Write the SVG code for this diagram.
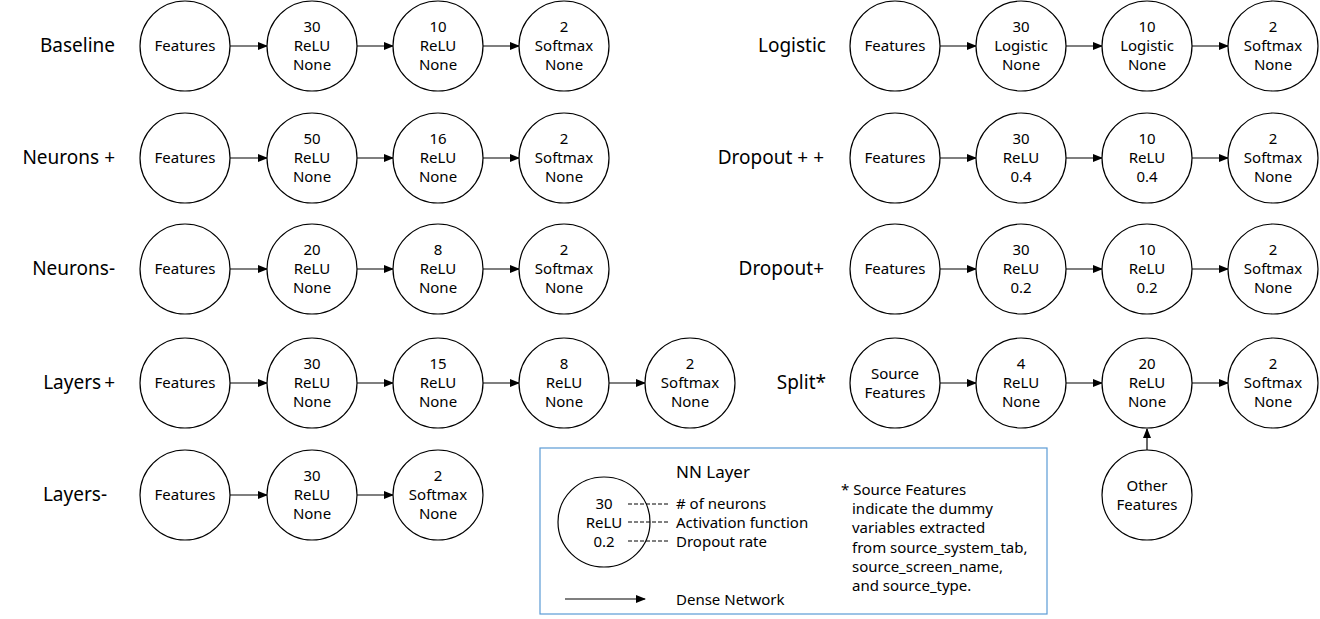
<svg xmlns="http://www.w3.org/2000/svg" width="1320" height="619" viewBox="0 0 1320 619">
<style>
text{font-family:"Noto Sans","Liberation Sans",sans-serif;fill:#000}
.n{font-size:15px;text-anchor:middle}
.lb{font-size:19px;text-anchor:end}
.lg{font-size:15px}
ellipse{fill:#fff;stroke:#000;stroke-width:1.2}
.c line{stroke:#000;stroke-width:1.2;marker-end:url(#ah)}
</style>
<defs>
<marker id="ah" markerWidth="10" markerHeight="8" refX="9" refY="4" orient="auto" markerUnits="userSpaceOnUse">
<path d="M0,0 L10,4 L0,8 Z" fill="#000"/>
</marker>
</defs>
<rect width="1320" height="619" fill="#fff"/>

<!-- row labels -->
<g id="labels">
<text class="lb" x="115" y="52">Baseline</text>
<text class="lb" x="115" y="164">Neurons<tspan dx="5">+</tspan></text>
<text class="lb" x="115" y="275">Neurons-</text>
<text class="lb" x="115" y="389">Layers<tspan dx="3">+</tspan></text>
<text class="lb" x="107" y="501">Layers-</text>
<text class="lb" x="826" y="52">Logistic</text>
<text class="lb" x="824" y="164">Dropout<tspan dx="5">+</tspan><tspan dx="5">+</tspan></text>
<text class="lb" x="824" y="275">Dropout+</text>
<text class="lb" x="826" y="389">Split*</text>
</g>

<!-- connectors -->
<g class="c" id="connectors">
<line x1="230" y1="46" x2="267" y2="46"/><line x1="357" y1="46" x2="393" y2="46"/><line x1="483" y1="46" x2="519" y2="46"/>
<line x1="230" y1="158" x2="267" y2="158"/><line x1="357" y1="158" x2="393" y2="158"/><line x1="483" y1="158" x2="519" y2="158"/>
<line x1="230" y1="269" x2="267" y2="269"/><line x1="357" y1="269" x2="393" y2="269"/><line x1="483" y1="269" x2="519" y2="269"/>
<line x1="230" y1="383" x2="267" y2="383"/><line x1="357" y1="383" x2="393" y2="383"/><line x1="483" y1="383" x2="519" y2="383"/><line x1="609" y1="383" x2="645" y2="383"/>
<line x1="230" y1="495" x2="267" y2="495"/><line x1="357" y1="495" x2="393" y2="495"/>
<line x1="940" y1="46" x2="976" y2="46"/><line x1="1066" y1="46" x2="1102" y2="46"/><line x1="1192" y1="46" x2="1228" y2="46"/>
<line x1="940" y1="158" x2="976" y2="158"/><line x1="1066" y1="158" x2="1102" y2="158"/><line x1="1192" y1="158" x2="1228" y2="158"/>
<line x1="940" y1="269" x2="976" y2="269"/><line x1="1066" y1="269" x2="1102" y2="269"/><line x1="1192" y1="269" x2="1228" y2="269"/>
<line x1="940" y1="383" x2="976" y2="383"/><line x1="1066" y1="383" x2="1102" y2="383"/><line x1="1192" y1="383" x2="1228" y2="383"/>
<line x1="1147" y1="450" x2="1147" y2="429"/>
</g>

<!-- Baseline -->
<g id="baseline-features"><ellipse cx="185" cy="46" rx="45" ry="45"/><text class="n" x="185" y="51">Features</text></g>
<g id="baseline-l1"><ellipse cx="312" cy="46" rx="45" ry="45"/><text class="n" x="312" y="32">30</text><text class="n" x="312" y="51">ReLU</text><text class="n" x="312" y="70">None</text></g>
<g id="baseline-l2"><ellipse cx="438" cy="46" rx="45" ry="45"/><text class="n" x="438" y="32">10</text><text class="n" x="438" y="51">ReLU</text><text class="n" x="438" y="70">None</text></g>
<g id="baseline-out"><ellipse cx="564" cy="46" rx="45" ry="45"/><text class="n" x="564" y="32">2</text><text class="n" x="564" y="51">Softmax</text><text class="n" x="564" y="70">None</text></g>

<!-- Neurons+ -->
<g id="np-features"><ellipse cx="185" cy="158" rx="45" ry="45"/><text class="n" x="185" y="163">Features</text></g>
<g id="np-l1"><ellipse cx="312" cy="158" rx="45" ry="45"/><text class="n" x="312" y="144">50</text><text class="n" x="312" y="163">ReLU</text><text class="n" x="312" y="182">None</text></g>
<g id="np-l2"><ellipse cx="438" cy="158" rx="45" ry="45"/><text class="n" x="438" y="144">16</text><text class="n" x="438" y="163">ReLU</text><text class="n" x="438" y="182">None</text></g>
<g id="np-out"><ellipse cx="564" cy="158" rx="45" ry="45"/><text class="n" x="564" y="144">2</text><text class="n" x="564" y="163">Softmax</text><text class="n" x="564" y="182">None</text></g>

<!-- Neurons- -->
<g id="nm-features"><ellipse cx="185" cy="269" rx="45" ry="45"/><text class="n" x="185" y="274">Features</text></g>
<g id="nm-l1"><ellipse cx="312" cy="269" rx="45" ry="45"/><text class="n" x="312" y="255">20</text><text class="n" x="312" y="274">ReLU</text><text class="n" x="312" y="293">None</text></g>
<g id="nm-l2"><ellipse cx="438" cy="269" rx="45" ry="45"/><text class="n" x="438" y="255">8</text><text class="n" x="438" y="274">ReLU</text><text class="n" x="438" y="293">None</text></g>
<g id="nm-out"><ellipse cx="564" cy="269" rx="45" ry="45"/><text class="n" x="564" y="255">2</text><text class="n" x="564" y="274">Softmax</text><text class="n" x="564" y="293">None</text></g>

<!-- Layers+ -->
<g id="lp-features"><ellipse cx="185" cy="383" rx="45" ry="45"/><text class="n" x="185" y="388">Features</text></g>
<g id="lp-l1"><ellipse cx="312" cy="383" rx="45" ry="45"/><text class="n" x="312" y="369">30</text><text class="n" x="312" y="388">ReLU</text><text class="n" x="312" y="407">None</text></g>
<g id="lp-l2"><ellipse cx="438" cy="383" rx="45" ry="45"/><text class="n" x="438" y="369">15</text><text class="n" x="438" y="388">ReLU</text><text class="n" x="438" y="407">None</text></g>
<g id="lp-l3"><ellipse cx="564" cy="383" rx="45" ry="45"/><text class="n" x="564" y="369">8</text><text class="n" x="564" y="388">ReLU</text><text class="n" x="564" y="407">None</text></g>
<g id="lp-out"><ellipse cx="690" cy="383" rx="45" ry="45"/><text class="n" x="690" y="369">2</text><text class="n" x="690" y="388">Softmax</text><text class="n" x="690" y="407">None</text></g>

<!-- Layers- -->
<g id="lm-features"><ellipse cx="185" cy="495" rx="45" ry="45"/><text class="n" x="185" y="500">Features</text></g>
<g id="lm-l1"><ellipse cx="312" cy="495" rx="45" ry="45"/><text class="n" x="312" y="481">30</text><text class="n" x="312" y="500">ReLU</text><text class="n" x="312" y="519">None</text></g>
<g id="lm-out"><ellipse cx="438" cy="495" rx="45" ry="45"/><text class="n" x="438" y="481">2</text><text class="n" x="438" y="500">Softmax</text><text class="n" x="438" y="519">None</text></g>

<!-- Logistic -->
<g id="lo-features"><ellipse cx="895" cy="46" rx="45" ry="45"/><text class="n" x="895" y="51">Features</text></g>
<g id="lo-l1"><ellipse cx="1021" cy="46" rx="45" ry="45"/><text class="n" x="1021" y="32">30</text><text class="n" x="1021" y="51">Logistic</text><text class="n" x="1021" y="70">None</text></g>
<g id="lo-l2"><ellipse cx="1147" cy="46" rx="45" ry="45"/><text class="n" x="1147" y="32">10</text><text class="n" x="1147" y="51">Logistic</text><text class="n" x="1147" y="70">None</text></g>
<g id="lo-out"><ellipse cx="1273" cy="46" rx="45" ry="45"/><text class="n" x="1273" y="32">2</text><text class="n" x="1273" y="51">Softmax</text><text class="n" x="1273" y="70">None</text></g>

<!-- Dropout++ -->
<g id="dpp-features"><ellipse cx="895" cy="158" rx="45" ry="45"/><text class="n" x="895" y="163">Features</text></g>
<g id="dpp-l1"><ellipse cx="1021" cy="158" rx="45" ry="45"/><text class="n" x="1021" y="144">30</text><text class="n" x="1021" y="163">ReLU</text><text class="n" x="1021" y="182">0.4</text></g>
<g id="dpp-l2"><ellipse cx="1147" cy="158" rx="45" ry="45"/><text class="n" x="1147" y="144">10</text><text class="n" x="1147" y="163">ReLU</text><text class="n" x="1147" y="182">0.4</text></g>
<g id="dpp-out"><ellipse cx="1273" cy="158" rx="45" ry="45"/><text class="n" x="1273" y="144">2</text><text class="n" x="1273" y="163">Softmax</text><text class="n" x="1273" y="182">None</text></g>

<!-- Dropout+ -->
<g id="dp-features"><ellipse cx="895" cy="269" rx="45" ry="45"/><text class="n" x="895" y="274">Features</text></g>
<g id="dp-l1"><ellipse cx="1021" cy="269" rx="45" ry="45"/><text class="n" x="1021" y="255">30</text><text class="n" x="1021" y="274">ReLU</text><text class="n" x="1021" y="293">0.2</text></g>
<g id="dp-l2"><ellipse cx="1147" cy="269" rx="45" ry="45"/><text class="n" x="1147" y="255">10</text><text class="n" x="1147" y="274">ReLU</text><text class="n" x="1147" y="293">0.2</text></g>
<g id="dp-out"><ellipse cx="1273" cy="269" rx="45" ry="45"/><text class="n" x="1273" y="255">2</text><text class="n" x="1273" y="274">Softmax</text><text class="n" x="1273" y="293">None</text></g>

<!-- Split* -->
<g id="sp-features"><ellipse cx="895" cy="383" rx="45" ry="45"/><text class="n" x="895" y="379">Source</text><text class="n" x="895" y="398">Features</text></g>
<g id="sp-l1"><ellipse cx="1021" cy="383" rx="45" ry="45"/><text class="n" x="1021" y="369">4</text><text class="n" x="1021" y="388">ReLU</text><text class="n" x="1021" y="407">None</text></g>
<g id="sp-l2"><ellipse cx="1147" cy="383" rx="45" ry="45"/><text class="n" x="1147" y="369">20</text><text class="n" x="1147" y="388">ReLU</text><text class="n" x="1147" y="407">None</text></g>
<g id="sp-out"><ellipse cx="1273" cy="383" rx="45" ry="45"/><text class="n" x="1273" y="369">2</text><text class="n" x="1273" y="388">Softmax</text><text class="n" x="1273" y="407">None</text></g>
<g id="sp-other"><ellipse cx="1147" cy="495" rx="45" ry="45"/><text class="n" x="1147" y="491">Other</text><text class="n" x="1147" y="510">Features</text></g>

<!-- Legend -->
<g id="legend">
<rect x="540" y="448" width="507" height="166" fill="#fff" stroke="#5B9BD5" stroke-width="1.2"/>
<text x="676" y="478" style="font-size:17px">NN Layer</text>
<ellipse cx="604" cy="522" rx="46" ry="45"/>
<text class="n" x="604" y="509">30</text><text class="n" x="604" y="528">ReLU</text><text class="n" x="604" y="547">0.2</text>
<g stroke="#000" stroke-width="1" stroke-dasharray="4,2">
<line x1="628" y1="504" x2="668" y2="504"/><line x1="628" y1="522" x2="668" y2="522"/><line x1="628" y1="541" x2="668" y2="541"/>
</g>
<text class="lg" x="676" y="509"># of neurons</text>
<text class="lg" x="676" y="528">Activation function</text>
<text class="lg" x="676" y="547">Dropout rate</text>
<line x1="565" y1="599" x2="645" y2="599" stroke="#000" stroke-width="1.2" marker-end="url(#ah)"/>
<text class="lg" x="676" y="605">Dense Network</text>
<text class="lg" x="841" y="495">* Source Features</text>
<text class="lg" x="852" y="514">indicate the dummy</text>
<text class="lg" x="852" y="533">variables extracted</text>
<text class="lg" x="852" y="553">from source_system_tab,</text>
<text class="lg" x="852" y="572">source_screen_name,</text>
<text class="lg" x="852" y="591">and source_type.</text>
</g>
</svg>
